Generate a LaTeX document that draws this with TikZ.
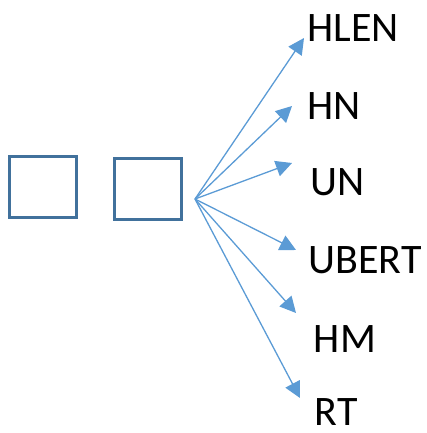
\documentclass[tikz,border=0pt]{standalone}
\usepackage{fontspec}
\setmainfont{Carlito}
\usetikzlibrary{arrows.meta}
\definecolor{boxblue}{HTML}{41719C}
\definecolor{arrowblue}{HTML}{5B9BD5}
\tikzset{every node/.append style={scale=1}}
\tikzset{
  box/.style={draw=boxblue, line width=3pt, minimum width=67pt, minimum height=61pt, inner sep=0pt},
  lbl/.style={font=\fontsize{42}{50}\selectfont, inner sep=0pt},
  fan/.style={draw=arrowblue, line width=1.3pt, -{Triangle[length=16pt,width=16pt]}}
}
\begin{document}
\begin{tikzpicture}[x=1pt,y=-1pt]
      \useasboundingbox (0,0) rectangle (427,433);

      \node[box] (sq1) at (43,187) {};
      \node[box] (sq2) at (147.5,188.5) {};
      \coordinate (o) at (195,199);

      \node[lbl] (hlen) at (353,28) {HLEN};
      \node[lbl] (hn) at (334,106) {HN};
      \node[lbl] (un) at (338,182) {UN};
      \node[lbl] (ubert) at (365,260) {UBERT};
      \node[lbl] (hm) at (345,339) {HM};
      \node[lbl] (rt) at (336,412) {RT};

      \coordinate (thlen) at (304,38);
      \coordinate (thn) at (292,106);
      \coordinate (tun) at (292,163);
      \coordinate (tubert) at (296,250);
      \coordinate (thm) at (296,313);
      \coordinate (trt) at (300,398);

      \draw[fan] (o) -- (thlen);
      \draw[fan] (o) -- (thn);
      \draw[fan] (o) -- (tun);
      \draw[fan] (o) -- (tubert);
      \draw[fan] (o) -- (thm);
      \draw[fan] (o) -- (trt);
    \end{tikzpicture}
\end{document}
